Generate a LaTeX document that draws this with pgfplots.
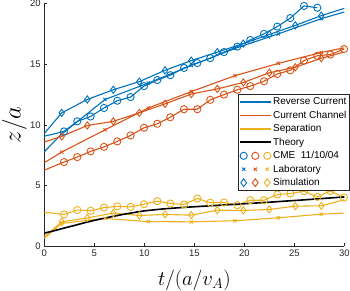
\documentclass[border=0pt]{standalone}
\usepackage{fontspec}
\setmainfont{Liberation Sans}
\usepackage{pgfplots}
\pgfplotsset{compat=1.18}
\definecolor{mblue}{rgb}{0,0.447,0.741}
\definecolor{mred}{rgb}{0.85,0.325,0.098}
\definecolor{myel}{rgb}{0.929,0.694,0.125}
\definecolor{axgray}{rgb}{0.15,0.15,0.15}
\begin{document}
\begin{tikzpicture}
\useasboundingbox (-44.3pt,-44.5pt) rectangle (305.7pt,246.5pt);
\begin{axis}[
  at={(0pt,0pt)}, anchor=south west, scale only axis, width=300pt, height=243pt,
  xmin=0, xmax=30, ymin=0, ymax=20,
  axis x line*=bottom, axis y line*=left,
  axis line style={draw=axgray, line width=0.5pt, -},
  xtick={0,5,...,30}, ytick={0,5,...,20},
  tick align=inside, major tick length=3pt,
  tick style={draw=axgray, line width=0.5pt},
  ticklabel style={font=\fontsize{9.5}{11}\selectfont, text=axgray},
  /pgf/number format/assume math mode=true,
  xlabel={$t/(a/v_A)$}, ylabel={$z/a$},
  xlabel style={font=\fontsize{20}{24}\selectfont, at={(axis description cs:0.5,-0.138)}, anchor=center},
  ylabel style={font=\fontsize{29}{32}\selectfont, at={(axis description cs:-0.1,0.5)}, anchor=center},
  legend style={at={(rel axis cs:1.0157,0.6255)}, anchor=north east, draw=axgray, line width=0.5pt,
    fill=white, font=\fontsize{10}{12}\selectfont, inner sep=0.8pt, row sep=0pt,
    nodes={inner ysep=2.35pt, inner xsep=1.5pt}, cells={anchor=west}},
  legend cell align=left,
  every axis plot/.append style={line width=1.1pt},
  mark options={solid, line width=0.9pt},
]
% legend entries
\addlegendimage{legend image code/.code={\draw[mblue, solid, line width=1.4pt] (0pt,0pt) -- (31pt,0pt);}}
\addlegendimage{legend image code/.code={\draw[mred, solid, line width=1.4pt] (0pt,0pt) -- (31pt,0pt);}}
\addlegendimage{legend image code/.code={\draw[myel, solid, line width=1.4pt] (0pt,0pt) -- (31pt,0pt);}}
\addlegendimage{legend image code/.code={\draw[black, solid, line width=1.8pt] (0pt,0pt) -- (31pt,0pt);}}
\addlegendimage{legend image code/.code={
  \draw[mblue, line width=1pt, mark=o, mark size=3.6pt] plot coordinates {(4pt,0pt)};
  \draw[mred, line width=1pt, mark=o, mark size=3.6pt] plot coordinates {(15.6pt,0pt)};
  \draw[myel, line width=1pt, mark=o, mark size=3.6pt] plot coordinates {(27.6pt,0pt)};}}
\addlegendimage{legend image code/.code={
  \draw[mblue, line width=1pt, mark=x, mark size=2.3pt] plot coordinates {(4pt,0pt)};
  \draw[mred, line width=1pt, mark=x, mark size=2.3pt] plot coordinates {(15.6pt,0pt)};
  \draw[myel, line width=1pt, mark=x, mark size=2.3pt] plot coordinates {(27.6pt,0pt)};}}
\addlegendimage{legend image code/.code={
  \draw[mblue, line width=1pt, mark=diamond, mark size=3.9pt] plot coordinates {(4pt,0pt)};
  \draw[mred, line width=1pt, mark=diamond, mark size=3.9pt] plot coordinates {(15.6pt,0pt)};
  \draw[myel, line width=1pt, mark=diamond, mark size=3.9pt] plot coordinates {(27.6pt,0pt)};}}
\legend{Reverse Current, Current Channel, Separation, Theory, {CME\ \ 11/10/04}, Laboratory, Simulation}

% CME circles
\addplot[mblue, mark=o, mark size=3.6pt, mark indices={2,...,22}, forget plot] coordinates {
(-0.69,8.95)(0.64,9.2)(1.97,9.47)(3.3,10.3)(4.63,10.7)(5.97,11.4)(7.3,12.0)(8.63,12.3)(9.97,13.2)
(11.3,13.7)(12.6,14.1)(13.97,14.7)(15.3,15.1)(16.6,15.5)(17.97,16.0)(19.3,16.45)(20.6,17.0)
(21.97,17.5)(23.3,18.1)(24.6,18.8)(25.97,19.8)(27.3,19.65)};
\addplot[mred, mark=o, mark size=3.6pt, mark indices={2,...,24}, forget plot] coordinates {
(-0.69,6.05)(0.64,6.5)(1.97,6.95)(3.3,7.36)(4.63,7.83)(5.97,8.2)(7.3,8.65)(8.63,9.14)(9.97,9.77)
(11.3,10.1)(12.6,10.64)(13.97,11.3)(15.3,11.3)(16.6,12.07)(17.97,12.5)(19.3,12.9)(20.6,13.2)
(21.97,13.6)(23.3,14.2)(24.6,14.5)(25.97,15.3)(27.3,15.7)(28.6,15.8)(29.97,16.25)};
\addplot[myel, mark=o, mark size=3.6pt, mark indices={2,...,24}, forget plot] coordinates {
(-0.69,2.8)(0.64,2.77)(1.97,2.64)(3.3,3.0)(4.63,2.94)(5.97,3.2)(7.3,3.3)(8.63,3.26)(9.97,3.48)
(11.3,3.73)(12.6,3.54)(13.97,3.46)(15.3,3.95)(16.6,3.6)(17.97,3.62)(19.3,3.4)(20.6,3.81)
(21.97,3.81)(23.3,4.28)(24.6,4.36)(25.97,4.55)(27.3,4.08)(28.6,4.57)(29.97,4.03)};

% Laboratory
\addplot[mblue, mark=x, mark size=2.3pt, mark indices={2,...,8}, forget plot] coordinates {
(0,7.8)(1.74,9.25)(6.07,12.1)(10.4,13.45)(14.7,14.9)(19.07,16.3)(23.4,17.5)(27.7,18.75)(30,19.3)};
\addplot[mred, mark=x, mark size=2.3pt, mark indices={2,...,8}, forget plot] coordinates {
(0,6.9)(1.74,7.77)(6.07,9.6)(10.4,11.4)(14.7,12.75)(19.07,14.06)(23.4,15.07)(27.7,15.97)(30,16.35)};
\addplot[myel, mark=x, mark size=2.3pt, mark indices={2,...,8}, forget plot] coordinates {
(0,0.67)(1.74,1.9)(6.07,2.31)(10.4,2.05)(14.7,2.03)(19.07,2.12)(23.4,2.36)(27.7,2.66)(30,2.75)};

% Simulation
\addplot[mblue, mark=diamond, mark size=3.6pt, mark indices={2,...,12}, forget plot] coordinates {
(0,9.3)(1.74,11.0)(4.3,12.1)(6.9,12.9)(9.5,13.57)(12.07,14.5)(14.7,15.3)(17.3,16.0)(19.9,16.7)
(22.5,17.45)(25.1,18.2)(27.7,19.0)(30,19.6)};
\addplot[mred, mark=diamond, mark size=3.6pt, mark indices={2,...,12}, forget plot] coordinates {
(0,8.6)(1.74,9.06)(4.3,9.96)(6.9,10.3)(9.5,11.0)(12.07,11.74)(14.7,12.55)(17.3,12.97)(19.9,13.5)
(22.5,14.3)(25.1,14.75)(27.7,15.5)(30,16.0)};
\addplot[myel, mark=diamond, mark size=3.6pt, mark indices={2,...,12}, forget plot] coordinates {
(0,0.8)(1.74,2.03)(4.3,2.35)(6.9,2.75)(9.5,2.55)(12.07,2.64)(14.7,2.58)(17.3,2.99)(19.9,2.97)
(22.5,3.05)(25.1,3.32)(27.7,3.35)(30,3.85)};

% Theory
\addplot[black, line width=1.6pt, no marks, smooth, forget plot] coordinates {
(0,1.1)(1,1.3)(2,1.52)(3,1.73)(4,1.95)(5,2.15)(6,2.33)(7,2.5)(8,2.66)(9,2.8)(10,2.93)
(12,3.1)(14,3.22)(16,3.32)(18,3.42)(20,3.52)(22,3.62)(24,3.73)(26,3.84)(28,3.96)(30,4.08)};
\end{axis}
\end{tikzpicture}
\end{document}
